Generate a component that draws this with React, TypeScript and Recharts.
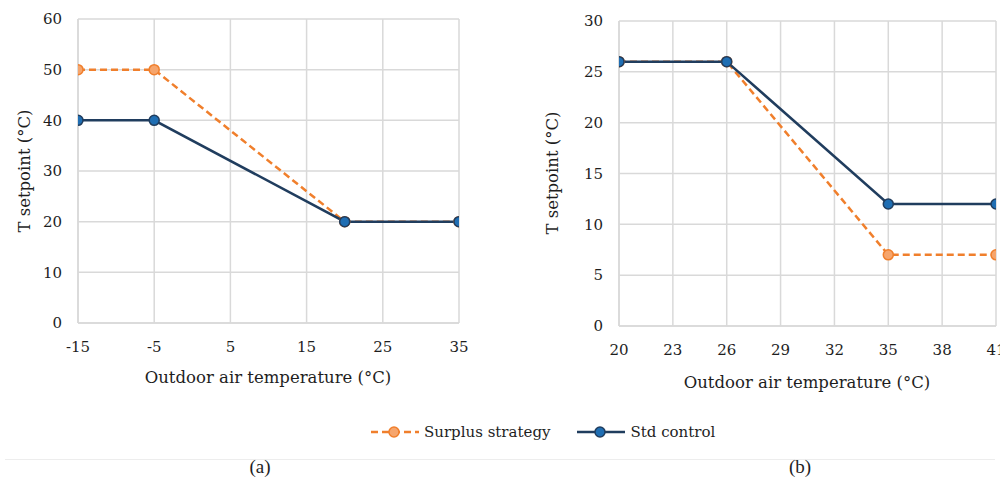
import React from "react";
import { LineChart, Line, XAxis, YAxis, CartesianGrid } from "recharts";

// Panel (a) – heating
const tempA = [-15, -5, 20, 35];
const surplusA = [50, 50, 20, 20];
const stdA = [40, 40, 20, 20];
const xTicksA = [-15, -5, 5, 15, 25, 35];
const yTicksA = [0, 10, 20, 30, 40, 50, 60];

// Panel (b) – cooling
const tempB = [20, 26, 35, 41];
const surplusB = [26, 26, 7, 7];
const stdB = [26, 26, 12, 12];
const xTicksB = [20, 23, 26, 29, 32, 35, 38, 41];
const yTicksB = [0, 5, 10, 15, 20, 25, 30];

const seriesNames = ["Surplus strategy", "Std control"];
const xTitle = "Outdoor air temperature (°C)";
const yTitle = "T setpoint (°C)";
const panelLabels = ["(a)", "(b)"];

const dataA = tempA.map((t, i) => ({ t, surplus: surplusA[i], std: stdA[i] }));
const dataB = tempB.map((t, i) => ({ t, surplus: surplusB[i], std: stdB[i] }));

const ORANGE = "#F07F2C";
const ORANGE_FILL = "#F6A56C";
const NAVY = "#203D5E";
const BLUE_FILL = "#1F6EB3";
const GRID = "#D9D9D9";
const FONT = "'DejaVu Serif', serif";
const TEXT = "#1e1e1e";

const tickStyle = { fontFamily: FONT, fontSize: 15, fill: TEXT };

function Panel(props: {
  data: any[];
  xTicks: number[];
  yTicks: number[];
  xDomain: [number, number];
  yDomain: [number, number];
  margin: any;
  yWidth: number;
}) {
  const { data, xTicks, yTicks, xDomain, yDomain, margin, yWidth } = props;
  return (
    <LineChart width={480} height={400} data={data} margin={margin}>
      <CartesianGrid stroke={GRID} strokeWidth={1.5} verticalValues={xTicks} horizontalValues={yTicks} />
      <XAxis
        dataKey="t"
        type="number"
        domain={xDomain}
        ticks={xTicks}
        interval={0}
        height={30}
        axisLine={{ stroke: GRID, strokeWidth: 1.5 }}
        tickLine={false}
        tickSize={0}
        tickMargin={18}
        tick={tickStyle}
        allowDataOverflow
      />
      <YAxis
        type="number"
        domain={yDomain}
        ticks={yTicks}
        interval={0}
        width={yWidth}
        axisLine={{ stroke: GRID, strokeWidth: 1.5 }}
        tickLine={false}
        tickSize={0}
        tickMargin={16}
        tick={tickStyle}
      />
      <Line
        dataKey="surplus"
        name={seriesNames[0]}
        stroke={ORANGE}
        strokeWidth={2.5}
        strokeDasharray="7 4"
        dot={{ r: 5, fill: ORANGE_FILL, stroke: ORANGE, strokeWidth: 1.5, strokeDasharray: "" }}
        isAnimationActive={false}
      />
      <Line
        dataKey="std"
        name={seriesNames[1]}
        stroke={NAVY}
        strokeWidth={2.5}
        dot={{ r: 5, fill: BLUE_FILL, stroke: NAVY, strokeWidth: 1.5 }}
        isAnimationActive={false}
      />
    </LineChart>
  );
}

const abs = (left: number, top: number): React.CSSProperties => ({ position: "absolute", left, top });

export default function App() {
  return (
    <div
      style={{
        position: "absolute",
        left: 0,
        top: 0,
        width: 1000,
        height: 480,
        background: "#fff",
        overflow: "hidden",
        fontFamily: FONT,
        color: TEXT,
      }}
    >
      <div style={abs(0, 0)}>
        <Panel
          data={dataA}
          xTicks={xTicksA}
          yTicks={yTicksA}
          xDomain={[-15, 35]}
          yDomain={[0, 60]}
          margin={{ top: 19, right: 21, left: 10, bottom: 47 }}
          yWidth={68}
        />
      </div>
      <div style={abs(520, 0)}>
        <Panel
          data={dataB}
          xTicks={xTicksB}
          yTicks={yTicksB}
          xDomain={[20, 41]}
          yDomain={[0, 30]}
          margin={{ top: 21, right: 4, left: 23, bottom: 44 }}
          yWidth={76}
        />
      </div>

      {/* axis titles */}
      <div style={{ ...abs(68, 368), width: 400, textAlign: "center", fontSize: 16.5, lineHeight: "20px" }}>{xTitle}</div>
      <div style={{ ...abs(607, 373), width: 400, textAlign: "center", fontSize: 16.5, lineHeight: "20px" }}>{xTitle}</div>
      <div
        style={{
          ...abs(25 - 100, 171 - 10),
          width: 200,
          textAlign: "center",
          fontSize: 16.5,
          lineHeight: "20px",
          transform: "rotate(-90deg)",
        }}
      >
        {yTitle}
      </div>
      <div
        style={{
          ...abs(553 - 100, 173 - 10),
          width: 200,
          textAlign: "center",
          fontSize: 16.5,
          lineHeight: "20px",
          transform: "rotate(-90deg)",
        }}
      >
        {yTitle}
      </div>

      {/* legend */}
      <div style={{ ...abs(370, 422), display: "flex", alignItems: "center", fontSize: 15, lineHeight: "20px" }}>
        <svg width={50} height={14}>
          <line x1={1} y1={7} x2={49} y2={7} stroke={ORANGE} strokeWidth={2.5} strokeDasharray="7 4" />
          <circle cx={24} cy={7} r={5} fill={ORANGE_FILL} stroke={ORANGE} strokeWidth={1.5} />
        </svg>
        <span style={{ marginLeft: 4 }}>{seriesNames[0]}</span>
        <svg width={50} height={14} style={{ marginLeft: 26 }}>
          <line x1={1} y1={7} x2={49} y2={7} stroke={NAVY} strokeWidth={2.5} />
          <circle cx={24} cy={7} r={5} fill={BLUE_FILL} stroke={NAVY} strokeWidth={1.5} />
        </svg>
        <span style={{ marginLeft: 4 }}>{seriesNames[1]}</span>
      </div>

      {/* separator & panel labels */}
      <div style={{ ...abs(5, 459), width: 990, height: 1, background: "#EDEDED" }} />
      <div
        style={{
          ...abs(210, 456),
          width: 100,
          textAlign: "center",
          fontSize: 19,
          lineHeight: "22px",
          fontFamily: "'Liberation Serif', serif",
        }}
      >
        {panelLabels[0]}
      </div>
      <div
        style={{
          ...abs(750, 456),
          width: 100,
          textAlign: "center",
          fontSize: 19,
          lineHeight: "22px",
          fontFamily: "'Liberation Serif', serif",
        }}
      >
        {panelLabels[1]}
      </div>
    </div>
  );
}
